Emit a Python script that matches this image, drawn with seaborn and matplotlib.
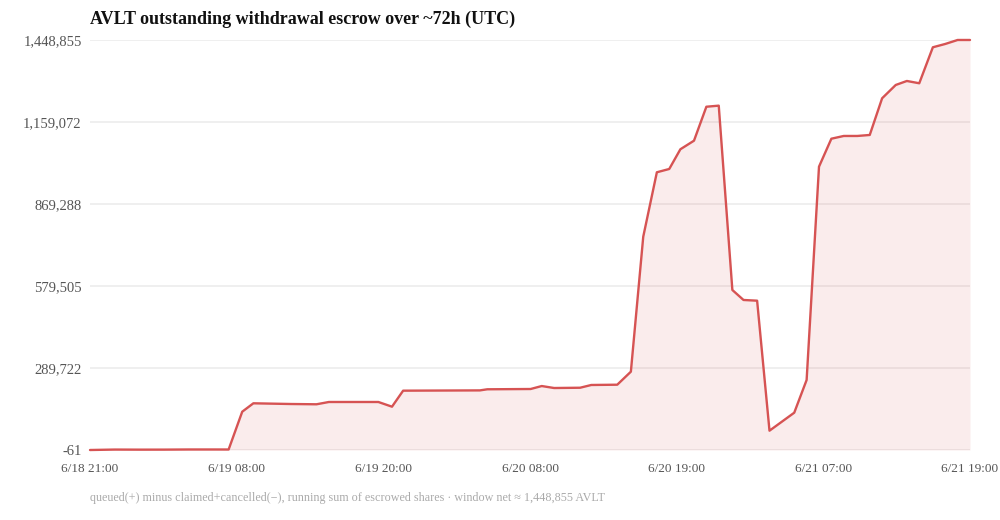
import numpy as np
import pandas as pd
import matplotlib.pyplot as plt
import seaborn as sns

# hours since window start
hours = [0.0, 2.0, 4.0, 6.0, 8.0, 10.0, 11.2, 12.3, 13.2, 16.2, 18.3, 19.3,
         23.3, 24.4, 25.3, 31.5, 32.1, 35.6, 36.5, 37.5, 39.6, 40.5, 42.6,
         43.7, 44.7, 45.8, 46.8, 47.7, 48.8, 49.8, 50.8, 51.9, 52.8, 53.9,
         54.9, 55.9, 56.9, 57.9, 58.9, 59.9, 60.9, 62.0, 63.0, 64.0, 65.1,
         66.0, 67.0, 68.1, 69.1, 70.1, 71.1]
escrow = [-61, 1500, 1200, 1300, 1800, 1800, 1700, 135300, 165000, 162500,
          161500, 169600, 169600, 153000, 209600, 210600, 214500, 215500,
          226000, 219000, 220000, 229700, 230700, 276700, 753800, 981400,
          993000, 1062700, 1093000, 1213000, 1216800, 565400, 530100, 527600,
          68200, 100000, 131800, 247400, 1001200, 1100000, 1109700, 1109700,
          1113200, 1242900, 1289900, 1304000, 1295900, 1423100, 1434800,
          1448855, 1448855]

x_labels = ['6/18 21:00', '6/19 08:00', '6/19 20:00', '6/20 08:00',
            '6/20 19:00', '6/21 07:00', '6/21 19:00']
y_ticks = [-61, 289722, 579505, 869288, 1159072, 1448855]

title = 'AVLT outstanding withdrawal escrow over ~72h (UTC)'
footer = ('queued(+) minus claimed+cancelled(\u2212), running sum of escrowed '
          'shares \u00b7 window net \u2248 1,448,855 AVLT')

df = pd.DataFrame({'hours': hours, 'escrow': escrow})

sns.set_theme(style='white')
plt.rcParams['font.family'] = ['Liberation Serif', 'DejaVu Serif']

line_color = '#d65353'

fig = plt.figure(figsize=(10, 5.2), dpi=100)
ax = fig.add_axes([0.09, 0.1346, 0.88, 0.7885])

ax.fill_between(df['hours'], df['escrow'], y_ticks[0],
                color=line_color, alpha=0.11, linewidth=0)
sns.lineplot(data=df, x='hours', y='escrow', ax=ax, color=line_color,
             linewidth=1.7, clip_on=False)

ax.set_xlim(df['hours'].min(), df['hours'].max())
ax.set_ylim(y_ticks[0], y_ticks[-1])
ax.set_xticks(np.linspace(df['hours'].min(), df['hours'].max(), len(x_labels)))
ax.set_xticklabels(x_labels)
ax.set_yticks(y_ticks)
ax.set_yticklabels([f'{v:,}' for v in y_ticks])
ax.tick_params(axis='both', length=0, labelcolor='#555555')
ax.tick_params(axis='x', pad=9, labelsize=9.5)
ax.tick_params(axis='y', pad=6, labelsize=10.5)
ax.set_xlabel('')
ax.set_ylabel('')

ax.grid(axis='y', color='#ebebeb', linewidth=1.1)
ax.grid(axis='x', visible=False)
ax.set_axisbelow(True)
sns.despine(ax=ax, left=True, bottom=True)

fig.text(0.09, 0.962, title, fontsize=13, fontweight='bold',
         color='#111111', ha='left', va='center')
fig.text(0.09, 0.042, footer, fontsize=8.7, color='#aaaaaa',
         ha='left', va='center')

fig.savefig('out.png', dpi=100)
